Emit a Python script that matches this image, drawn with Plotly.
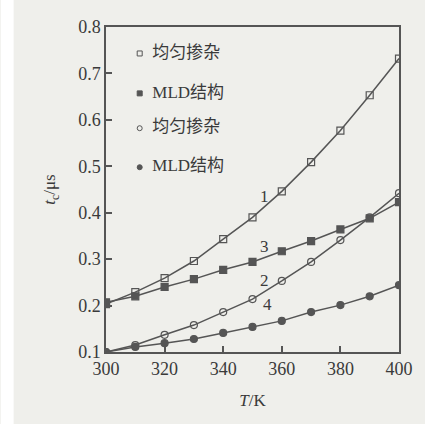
import plotly.graph_objects as go

T = [300, 310, 320, 330, 340, 350, 360, 370, 380, 390, 400]
c1 = [0.203, 0.229, 0.259, 0.296, 0.343, 0.39, 0.446, 0.509, 0.577, 0.653, 0.732]
c3 = [0.207, 0.22, 0.24, 0.257, 0.277, 0.294, 0.317, 0.339, 0.364, 0.388, 0.423]
c2 = [0.10, 0.115, 0.137, 0.158, 0.186, 0.214, 0.253, 0.294, 0.341, 0.39, 0.442]
c4 = [0.10, 0.111, 0.119, 0.128, 0.141, 0.154, 0.167, 0.186, 0.201, 0.22, 0.244]
names = ["均匀掺杂", "MLD结构", "均匀掺杂", "MLD结构"]
curve_labels = ["1", "3", "2", "4"]
label_pos = [(354, 0.435), (354, 0.327), (354, 0.255), (355, 0.203)]
leg_y = [0.743, 0.657, 0.582, 0.498]

LC = "#555555"
TC = "#3a3a3a"
BG = "#efefeb"
FONT = "Liberation Serif"
CJK = "Liberation Serif, Noto Sans CJK SC"

fig = go.Figure()
series = [(c1, "square-open"), (c3, "square"), (c2, "circle-open"), (c4, "circle")]
for (ys, sym), nm in zip(series, names):
    fig.add_trace(go.Scatter(x=T, y=ys, mode="lines+markers", name=nm,
                             line=dict(color=LC, width=1.5),
                             marker=dict(symbol=sym, size=7, color=LC,
                                         line=dict(color=LC, width=1.2)),
                             showlegend=False))

for (ys, sym), nm, yy in zip(series, names, leg_y):
    fig.add_trace(go.Scatter(x=[311.5], y=[yy], mode="markers+text",
                             marker=dict(symbol=sym, size=5, color=LC,
                                         line=dict(color=LC, width=1)),
                             text=["  " + nm], textposition="middle right",
                             textfont=dict(family=CJK, size=17, color=TC),
                             showlegend=False, hoverinfo="skip"))

for lab, (lx, ly) in zip(curve_labels, label_pos):
    fig.add_annotation(x=lx, y=ly, text=lab, showarrow=False,
                       font=dict(family=FONT, size=17, color=TC))

# white scan margin on the left edge of the page
fig.add_shape(type="rect", xref="paper", yref="paper",
              x0=-106 / 295, x1=(13 - 106) / 295, y0=-72 / 325, y1=(424 - 72) / 325 + 0.1,
              fillcolor="#ffffff", line=dict(width=0), layer="below")

axis_common = dict(showline=True, linecolor=LC, linewidth=1.5, mirror=True,
                   ticks="inside", ticklen=6, tickcolor=LC, tickwidth=1.5,
                   showgrid=False, zeroline=False,
                   tickfont=dict(family=FONT, size=18, color=TC))

fig.update_layout(
    width=425, height=424,
    margin=dict(l=106, r=24, t=27, b=72),
    paper_bgcolor=BG, plot_bgcolor=BG,
    xaxis=dict(range=[300, 400], tickvals=T[::2], **axis_common,
               title=dict(text="<i>T</i>/K", standoff=16,
                          font=dict(family=FONT, size=17, color=TC))),
    yaxis=dict(range=[0.1, 0.8], tickvals=[0.1, 0.2, 0.3, 0.4, 0.5, 0.6, 0.7, 0.8],
               tickformat=".1f", **axis_common,
               title=dict(text="<i>t</i><sub>c</sub>/μs", standoff=18,
                          font=dict(family=FONT, size=17, color=TC))),
)
fig.write_html("out.html", config={"displayModeBar": False},
               post_script="document.body.style.margin='0';document.body.style.background='#ffffff';")
